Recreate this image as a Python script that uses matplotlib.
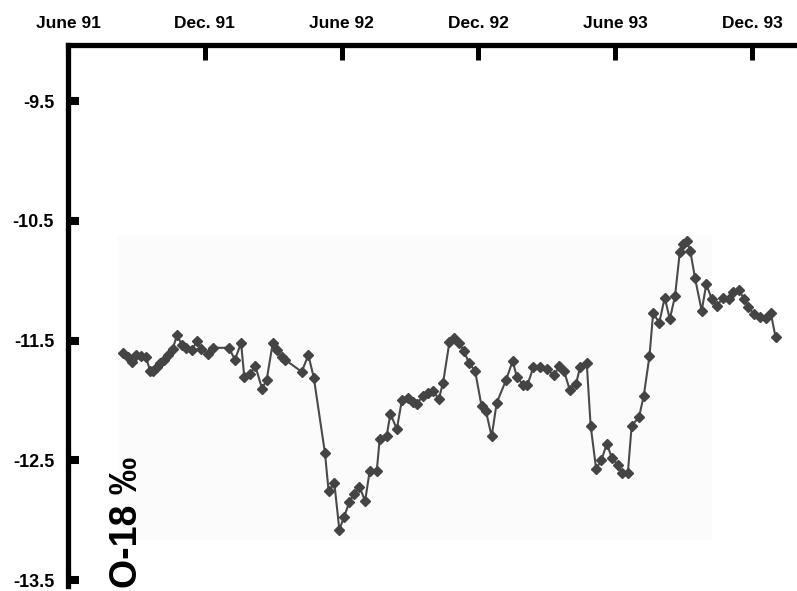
import matplotlib
matplotlib.use("Agg")
import numpy as np
from matplotlib import pyplot as plt
from matplotlib.patches import Rectangle

# months since June 1991
months = [
    2.41, 2.64, 2.79, 3.00, 3.22, 3.42, 3.60, 3.73, 3.89, 4.04,
    4.21, 4.40, 4.59, 4.79, 4.99, 5.19, 5.43, 5.67, 5.83, 6.14,
    6.36, 7.06, 7.32, 7.59, 7.73, 8.00, 8.21, 8.51, 8.71, 8.98,
    9.15, 9.37, 9.52, 10.25, 10.54, 10.78, 11.27, 11.43, 11.68, 11.90,
    12.11, 12.34, 12.54, 12.78, 13.03, 13.23, 13.54, 13.67, 13.97, 14.14,
    14.42, 14.64, 14.93, 15.13, 15.29, 15.58, 15.80, 16.02, 16.26, 16.45,
    16.73, 16.93, 17.16, 17.37, 17.59, 17.85, 18.14, 18.33, 18.58, 18.80,
    19.21, 19.50, 19.68, 19.96, 20.15, 20.41, 20.69, 21.00, 21.32, 21.55,
    21.75, 22.00, 22.28, 22.46, 22.75, 22.92, 23.16, 23.39, 23.63, 23.85,
    24.12, 24.30, 24.55, 24.72, 25.04, 25.25, 25.50, 25.66, 25.93, 26.17,
    26.39, 26.62, 26.83, 26.99, 27.13, 27.29, 27.50, 27.79, 27.99, 28.23,
    28.46, 28.73, 28.99, 29.18, 29.43, 29.65, 29.84, 30.09, 30.34, 30.61,
    30.82, 31.03,
]

o18 = [
    -11.60, -11.64, -11.68, -11.62, -11.63, -11.64, -11.75, -11.75, -11.72, -11.69,
    -11.66, -11.62, -11.57, -11.45, -11.54, -11.56, -11.58, -11.50, -11.57, -11.61,
    -11.56, -11.56, -11.66, -11.52, -11.80, -11.78, -11.71, -11.90, -11.83, -11.52,
    -11.58, -11.64, -11.66, -11.76, -11.62, -11.81, -12.44, -12.76, -12.69, -13.08,
    -12.97, -12.85, -12.78, -12.72, -12.84, -12.59, -12.59, -12.32, -12.30, -12.11,
    -12.24, -12.00, -11.98, -12.01, -12.03, -11.96, -11.94, -11.92, -11.99, -11.85,
    -11.51, -11.48, -11.52, -11.59, -11.69, -11.75, -12.05, -12.09, -12.30, -12.02,
    -11.83, -11.67, -11.80, -11.87, -11.87, -11.72, -11.72, -11.74, -11.79, -11.71,
    -11.75, -11.91, -11.86, -11.72, -11.69, -12.21, -12.57, -12.50, -12.36, -12.48,
    -12.54, -12.61, -12.61, -12.21, -12.14, -11.96, -11.63, -11.27, -11.35, -11.14,
    -11.32, -11.13, -10.76, -10.69, -10.67, -10.75, -10.98, -11.25, -11.03, -11.15,
    -11.21, -11.14, -11.15, -11.09, -11.08, -11.15, -11.22, -11.28, -11.30, -11.31,
    -11.27, -11.47,
]

x_ticks = [0, 6, 12, 18, 24, 30]
x_labels = ["June 91", "Dec. 91", "June 92", "Dec. 92", "June 93", "Dec. 93"]
y_ticks = [-9.5, -10.5, -11.5, -12.5, -13.5]

plt.rcParams["font.family"] = ["Liberation Sans", "DejaVu Sans"]

fig = plt.figure(figsize=(7.97, 5.91), dpi=100)
ax = fig.add_axes([68 / 797, 1 - 586 / 591, 1 - 68 / 797, (586 - 45) / 591])

# faint scanned panel behind the data
ax.add_patch(Rectangle((50 / 729, 1 - (540 - 45) / 541),
                       (712 - 118) / 729, (540 - 235) / 541,
                       transform=ax.transAxes, color="#fbfbfb", zorder=0, lw=0))

ax.plot(np.array(months), np.array(o18), color="#4a4a4a", lw=1.5,
        marker="D", ms=4.8, mfc="#444444", mec="#444444", zorder=3)

ax.set_xlim(0, 31.97)
ax.set_ylim(-13.55, -9.03)

for side in ("right", "bottom"):
    ax.spines[side].set_visible(False)
for side in ("left", "top"):
    ax.spines[side].set_linewidth(3.8)
    ax.spines[side].set_capstyle("projecting")

ax.xaxis.tick_top()
ax.set_xticks(x_ticks)
ax.set_xticklabels(x_labels, fontsize=12.5, fontweight="bold")
ax.tick_params(axis="x", direction="in", length=11, width=3.6, pad=10)

ax.set_yticks(y_ticks)
ax.set_yticklabels([f"{v}" for v in y_ticks], fontsize=13, fontweight="bold")
ax.tick_params(axis="y", direction="in", length=8, width=5.8, pad=10)

fig.text(127 / 797, 1 - 522 / 591, "O-18 \u2030", rotation=90, fontsize=27,
         fontweight="bold", ha="center", va="center")

fig.savefig("out.png", dpi=100)
